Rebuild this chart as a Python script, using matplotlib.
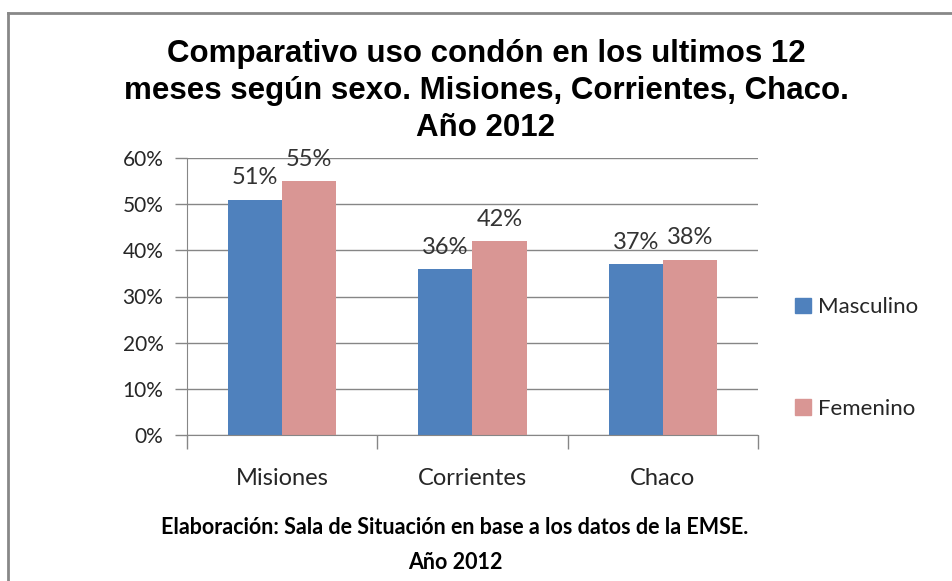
import numpy as np
import matplotlib
matplotlib.use("Agg")
import matplotlib.pyplot as plt
from matplotlib.patches import Patch
from matplotlib.ticker import FixedLocator, PercentFormatter

# datos
provincias = ["Misiones", "Corrientes", "Chaco"]
masculino = [0.51, 0.36, 0.37]
femenino = [0.55, 0.42, 0.38]
series = ["Masculino", "Femenino"]
colores = ["#4F81BD", "#D99694"]

titulo = "Comparativo uso condón en los ultimos 12\nmeses según sexo. Misiones, Corrientes, Chaco.\nAño 2012"
pie = "Elaboración: Sala de Situación en base a los datos de la EMSE.\nAño 2012"

W, H = 952, 581
fig = plt.figure(figsize=(W / 100, H / 100), dpi=100)
fig.patch.set_facecolor("white")

# borde gris del recuadro (solo arriba e izquierda se ven)
fig.add_artist(plt.Line2D([8 / W, 8 / W], [0, 1 - 13 / H], color="#888888", lw=2))
fig.add_artist(plt.Line2D([8 / W, 1], [1 - 13 / H, 1 - 13 / H], color="#888888", lw=2))

ax = fig.add_axes([187 / W, 1 - 435 / H, (758 - 187) / W, (435 - 158) / H])

x = np.arange(len(provincias))
bw = 0.284
b1 = ax.bar(x - bw / 2, masculino, bw, color=colores[0], zorder=3)
b2 = ax.bar(x + bw / 2, femenino, bw, color=colores[1], zorder=3)

for bars, vals in [(b1, masculino), (b2, femenino)]:
    for b, v in zip(bars, vals):
        ax.annotate(f"{round(v * 100):d}%", (b.get_x() + b.get_width() / 2, v),
                    xytext=(0, 8), textcoords="offset points", ha="center", va="bottom",
                    fontsize=17, family="Lato", color="#333333")

ax.set_xlim(-0.5, 2.5)
ax.set_ylim(0, 0.6)
ax.set_yticks(np.arange(0, 0.61, 0.1))
ax.yaxis.set_major_formatter(PercentFormatter(1.0, decimals=0))
ax.set_xticks(x)
ax.set_xticklabels(provincias)
ax.xaxis.set_minor_locator(FixedLocator([-0.5, 0.5, 1.5, 2.5]))
ax.tick_params(axis="x", which="major", length=0, pad=24, labelsize=17, labelcolor="#262626")
ax.tick_params(axis="x", which="minor", length=10, color="#868686", width=1)
ax.tick_params(axis="y", length=9, color="#868686", width=1, pad=8, labelsize=15, labelcolor="#262626")
for lab in ax.get_xticklabels() + ax.get_yticklabels():
    lab.set_family("Lato")

ax.grid(axis="y", color="#868686", lw=1, zorder=0)
for s in ["top", "right"]:
    ax.spines[s].set_visible(False)
for s in ["left", "bottom"]:
    ax.spines[s].set_color("#868686")
ax.spines["bottom"].set_zorder(4)

handles = [Patch(color=c) for c in colores]
fig.legend(handles, series, loc="center left", bbox_to_anchor=(775 / W, 1 - 358 / H),
           frameon=False, prop={"family": "Lato", "size": 16}, labelspacing=3.67,
           handlelength=0.7, handleheight=0.7, handletextpad=0.35, labelcolor="#262626")

fig.text(486 / W, 1 - 91 / H, titulo, ha="center", va="center", fontsize=22.5,
         family="Liberation Sans", fontweight="bold", linespacing=1.3)
fig.text(455 / W, 1 - 545 / H, pie, ha="center", va="center", fontsize=15.5,
         family="Lato", fontweight="bold", linespacing=1.82)

fig.savefig("out.png", dpi=100)
